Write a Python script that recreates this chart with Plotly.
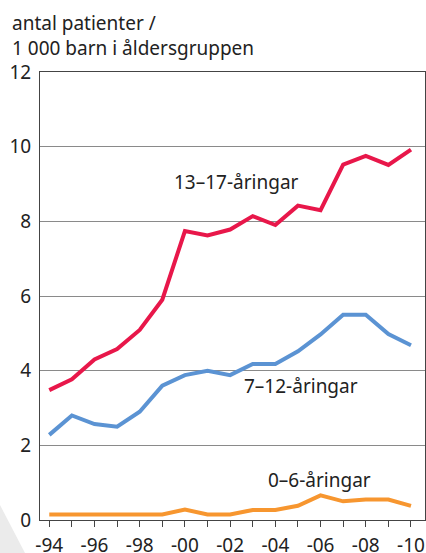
import plotly.graph_objects as go

years = list(range(1994, 2011))
teens = [3.48, 3.77, 4.30, 4.58, 5.09, 5.90, 7.74, 7.62, 7.78, 8.14, 7.90, 8.42, 8.30, 9.52, 9.75, 9.51, 9.92]
kids = [2.28, 2.80, 2.57, 2.50, 2.90, 3.60, 3.88, 4.00, 3.88, 4.18, 4.18, 4.52, 4.97, 5.50, 5.50, 4.98, 4.68]
small = [0.15, 0.15, 0.15, 0.15, 0.15, 0.15, 0.28, 0.15, 0.15, 0.27, 0.27, 0.38, 0.66, 0.50, 0.55, 0.55, 0.38]

tick_years = list(range(1994, 2011))
tick_text = ["-%02d" % (y % 100) if y % 2 == 0 else "" for y in tick_years]

series_labels = ["13–17-åringar", "7–12-åringar", "0–6-åringar"]
label_pos = [(2002.3, 9.06), (2005.15, 3.6), (2005.95, 1.08)]

font = "Noto Sans"
txt = "#222222"
fs = 19

fig = go.Figure()
fig.add_trace(go.Scatter(x=years, y=small, mode="lines", line=dict(color="#F7962F", width=4)))
fig.add_trace(go.Scatter(x=years, y=kids, mode="lines", line=dict(color="#5B93D3", width=4)))
fig.add_trace(go.Scatter(x=years, y=teens, mode="lines", line=dict(color="#E8174A", width=4)))

for name, (x, y) in zip(series_labels, label_pos):
    fig.add_annotation(x=x, y=y, text=name, showarrow=False,
                       font=dict(family=font, size=fs, color=txt))

fig.add_annotation(xref="paper", yref="paper", x=(10 - 40) / 385, y=(520 - 8) / 448,
                   xanchor="left", yanchor="top", align="left", showarrow=False,
                   text="antal patienter /<br>1 000 barn i åldersgruppen",
                   font=dict(family=font, size=fs, color=txt))

# grey decoration bottom-left
fig.add_shape(type="path", xref="paper", yref="paper", layer="below",
              path="M %f %f L %f %f L %f %f Z" % (-40 / 385, 15 / 448, -15 / 385, -33 / 448, -40 / 385, -33 / 448),
              fillcolor="#ebebeb", line=dict(width=0))

fig.update_layout(
    width=426, height=553,
    margin=dict(l=40, r=1, t=72, b=33),
    paper_bgcolor="white", plot_bgcolor="white",
    showlegend=False,
    font=dict(family=font, size=fs, color=txt),
    xaxis=dict(range=[1993.59, 2010.62], tickvals=tick_years, ticktext=tick_text,
               ticks="outside", ticklen=6, tickcolor="#444", showgrid=False,
               showline=True, linecolor="#444", linewidth=1, mirror=True,
               zeroline=False, ticklabelstandoff=2, automargin=False),
    yaxis=dict(range=[0, 12], tickvals=[0, 2, 4, 6, 8, 10, 12], showgrid=True,
               gridcolor="#8a8a8a", gridwidth=1, showline=True, linecolor="#444",
               linewidth=1, mirror=True, zeroline=False, ticks="", ticklabelstandoff=4,
               automargin=False),
)

fig.write_html("out.html", config={"displayModeBar": False},
               post_script="document.body.style.margin='0px';")
